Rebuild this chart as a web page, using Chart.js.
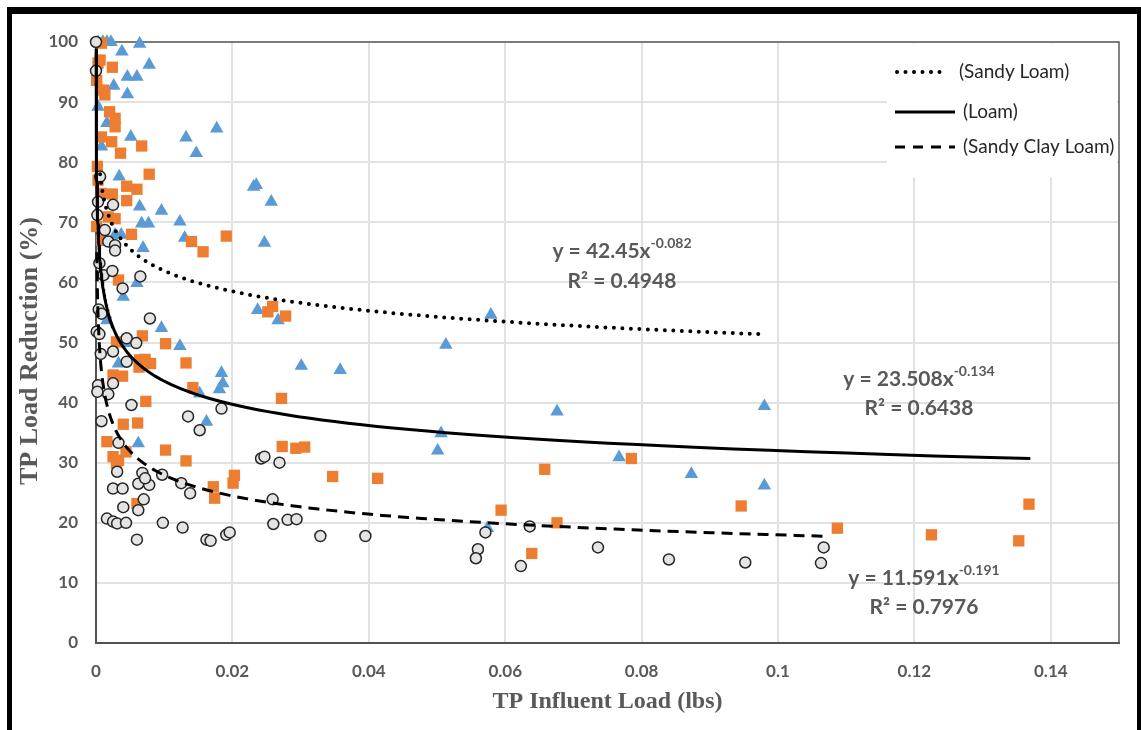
<!DOCTYPE html>
<html>
<head>
<meta charset="utf-8">
<script src="https://cdn.jsdelivr.net/npm/chart.js@4"></script>
<style>
  html, body { margin: 0; padding: 0; background: #fff; }
  #wrap { position: relative; width: 1141px; height: 730px; overflow: hidden; }
  #frame {
    position: absolute; left: 7px; top: 7px; width: 1134px; height: 800px;
    box-sizing: border-box; border-top: 7px solid #000; border-left: 5px solid #000;
    border-right: 4px solid #000; pointer-events: none;
  }
</style>
</head>
<body>
<div id="wrap">
  <canvas id="tpChart" width="1141" height="730"></canvas>
  <div id="frame"></div>
</div>
<script>
// x ticks + labels
const xTicks = [0, 0.02, 0.04, 0.06, 0.08, 0.1, 0.12, 0.14];
const xTickLabels = ['0', '0.02', '0.04', '0.06', '0.08', '0.1', '0.12', '0.14'];
const yTicks = [0, 10, 20, 30, 40, 50, 60, 70, 80, 90, 100];

// Sandy Loam (triangles)
const sandyLoamX = [0.0003, 0.0010, 0.0016, 0.0022, 0.0064, 0.0038, 0.0078, 0.0046, 0.0060, 0.0026,
  0.0046, 0.0003, 0.0016, 0.0177, 0.0132, 0.0051, 0.0147, 0.0034, 0.0231, 0.0235,
  0.0257, 0.0064, 0.0096, 0.0123, 0.0067, 0.0077, 0.0130, 0.0247, 0.0069, 0.0028,
  0.0037, 0.0060, 0.0040, 0.0237, 0.0016, 0.0267, 0.0096, 0.0123, 0.0042, 0.0033,
  0.0184, 0.0186, 0.0181, 0.0152, 0.0162, 0.0062, 0.0301, 0.0358, 0.0579, 0.0513,
  0.0676, 0.0506, 0.0501, 0.0767, 0.0873, 0.0980, 0.0980, 0.0574, 0.0008];
const sandyLoamY = [100, 100, 100, 100, 99.7, 98.4, 96.2, 94.2, 94.2, 92.7,
  91.3, 89.2, 86.5, 85.6, 84.1, 84.2, 81.5, 77.6, 75.9, 76.2,
  73.4, 72.6, 71.9, 70.1, 69.8, 69.8, 67.4, 66.6, 65.7, 67.9,
  67.9, 59.9, 57.6, 55.4, 53.7, 53.7, 52.4, 49.4, 49.9, 46.5,
  44.9, 43.2, 42.2, 41.5, 36.8, 33.2, 46.1, 45.4, 54.6, 49.6,
  38.5, 34.9, 32.0, 30.9, 28.1, 39.4, 26.2, 19.1, 82.6];

// Loam (squares)
const loamX = [0.0008, 0.0024, 0.0003, 0.0006, 0.0011, 0.0013, 0.0020, 0.0028, 0.0028, 0.0008,
  0.0023, 0.0067, 0.0036, 0.0002, 0.0078, 0.0045, 0.0060, 0.0024, 0.0045, 0.0003,
  0.0008, 0.0001, 0.0018, 0.0028, 0.0052, 0.0191, 0.0140, 0.0157, 0.0008, 0.0033,
  0.0252, 0.0259, 0.0278, 0.0068, 0.0030, 0.0102, 0.0064, 0.0072, 0.0080, 0.0063,
  0.0132, 0.0025, 0.0039, 0.0142, 0.0272, 0.0073, 0.0040, 0.0061, 0.0016, 0.0102,
  0.0132, 0.0273, 0.0293, 0.0306, 0.0025, 0.0033, 0.0044, 0.0030, 0.0203, 0.0201,
  0.0172, 0.0174, 0.0060, 0.0347, 0.0413, 0.0658, 0.0785, 0.0594, 0.0676, 0.0639,
  0.0946, 0.1087, 0.1368, 0.1225, 0.1353, 0.0001];
const loamY = [99.8, 95.8, 96.5, 97.0, 92.0, 91.2, 88.4, 87.3, 85.9, 84.2,
  83.4, 82.7, 81.5, 79.3, 78.0, 76.0, 75.5, 74.7, 73.6, 77.0,
  74.8, 69.3, 70.9, 70.6, 68.0, 67.7, 66.8, 65.1, 67.0, 60.4,
  55.1, 56.0, 54.4, 51.1, 50.1, 49.8, 47.1, 47.2, 46.5, 45.9,
  46.6, 44.6, 44.4, 42.5, 40.7, 40.2, 36.4, 36.6, 33.5, 32.1,
  30.3, 32.7, 32.4, 32.6, 31.0, 30.4, 31.8, 29.9, 27.9, 26.6,
  26.0, 24.1, 23.2, 27.7, 27.4, 28.9, 30.7, 22.1, 20.0, 14.9,
  22.8, 19.1, 23.1, 18.0, 17.0, 93.6];

// Sandy Clay Loam (circles)
const clayLoamX = [0.0000, 0.0000, 0.0006, 0.0003, 0.0025, 0.0002, 0.0013, 0.0018, 0.0028, 0.0028,
  0.0005, 0.0011, 0.0024, 0.0065, 0.0039, 0.0079, 0.0004, 0.0008, 0.0001, 0.0005,
  0.0045, 0.0059, 0.0025, 0.0007, 0.0045, 0.0025, 0.0018, 0.0003, 0.0002, 0.0052,
  0.0135, 0.0184, 0.0152, 0.0008, 0.0033, 0.0242, 0.0247, 0.0269, 0.0031, 0.0068,
  0.0025, 0.0039, 0.0062, 0.0078, 0.0072, 0.0097, 0.0125, 0.0138, 0.0040, 0.0070,
  0.0062, 0.0016, 0.0025, 0.0031, 0.0044, 0.0098, 0.0127, 0.0060, 0.0162, 0.0168,
  0.0191, 0.0196, 0.0259, 0.0260, 0.0281, 0.0294, 0.0329, 0.0395, 0.0571, 0.0560,
  0.0557, 0.0636, 0.0623, 0.0736, 0.0840, 0.0952, 0.1067, 0.1063];
const clayLoamY = [100, 95.2, 77.6, 73.4, 72.9, 71.2, 68.7, 66.8, 66.2, 65.3,
  63.2, 61.2, 61.9, 61.0, 59.0, 54.0, 55.5, 54.8, 51.8, 51.4,
  50.7, 49.9, 48.5, 48.1, 46.8, 43.2, 41.4, 42.9, 41.8, 39.6,
  37.7, 39.0, 35.4, 36.9, 33.3, 30.7, 31.0, 30.0, 28.5, 28.3,
  25.7, 25.7, 26.5, 26.3, 27.4, 28.0, 26.6, 24.9, 22.6, 23.9,
  22.1, 20.7, 20.2, 19.9, 20.0, 20.0, 19.2, 17.2, 17.2, 17.0,
  18.0, 18.4, 23.9, 19.8, 20.5, 20.6, 17.8, 17.8, 18.4, 15.6,
  14.1, 19.4, 12.8, 15.9, 13.9, 13.4, 15.9, 13.3];

// power trendlines  y = a * x^b
const trendNames = ['(Sandy Loam)', '(Loam)', '(Sandy Clay Loam)'];
const trendCoef = [42.45, 23.508, 11.591];
const trendExp = [-0.082, -0.134, -0.191];
const trendR2 = ['0.4948', '0.6438', '0.7976'];
const trendFrom = [0.0006, 0.000022, 0.00012];
const trendTo = [0.0975, 0.137, 0.107];
const trendDash = [[0, 8.5], [], [11, 7]];

function pts(xs, ys) {
  return xs.map((x, i) => ({ x: x, y: ys[i] }));
}

function trendPts(i) {
  const out = [];
  const n = 160;
  const l0 = Math.log(trendFrom[i]), l1 = Math.log(trendTo[i]);
  for (let k = 0; k <= n; k++) {
    const x = Math.exp(l0 + (l1 - l0) * k / n);
    out.push({ x: x, y: trendCoef[i] * Math.pow(x, trendExp[i]) });
  }
  return out;
}

const GRAY = '#595959';

const trendDatasets = trendNames.map((name, i) => ({
  label: name,
  data: trendPts(i),
  showLine: true,
  borderColor: '#000',
  borderWidth: i === 0 ? 4 : 3,
  borderDash: trendDash[i],
  borderCapStyle: i === 0 ? 'round' : 'butt',
  pointRadius: 0,
  pointHoverRadius: 0,
  tension: 0
}));

function drawEq(ctx, i, cx, cy1, cy2) {
  const main = 'bold 21px Lato';
  const sup = 'bold 14px Lato';
  const a = 'y = ' + trendCoef[i] + 'x';
  const b = String(trendExp[i]);
  ctx.font = main;
  const wa = ctx.measureText(a).width;
  ctx.font = sup;
  const wb = ctx.measureText(b).width;
  const x0 = cx - (wa + wb) / 2;
  ctx.fillStyle = GRAY;
  ctx.textBaseline = 'middle';
  ctx.textAlign = 'left';
  ctx.font = main;
  ctx.fillText(a, x0, cy1);
  ctx.font = sup;
  ctx.fillText(b, x0 + wa, cy1 - 8);
  ctx.font = main;
  ctx.textAlign = 'center';
  ctx.fillText('R\u00B2 = ' + trendR2[i], cx, cy2);
}

const decor = {
  id: 'decor',
  beforeDatasetsDraw(chart) {
    const { ctx, chartArea: ca } = chart;
    ctx.save();
    ctx.strokeStyle = GRAY;
    ctx.lineWidth = 1.5;
    ctx.strokeRect(ca.left, ca.top, ca.right - ca.left, ca.bottom - ca.top);
    ctx.restore();
  },
  afterDatasetsDraw(chart) {
    const { ctx, chartArea: ca } = chart;
    ctx.save();
    // legend box
    ctx.fillStyle = '#fff';
    ctx.fillRect(887, ca.top + 1.5, ca.right - 889, 134);
    const rows = [72, 112, 147];
    const textX = [959, 963, 963];
    const lineEnd = [946, 955, 955];
    rows.forEach((y, i) => {
      ctx.beginPath();
      ctx.strokeStyle = '#000';
      ctx.lineWidth = i === 0 ? 4 : 3;
      ctx.lineCap = i === 0 ? 'round' : 'butt';
      ctx.setLineDash(i === 2 ? [10, 8] : trendDash[i]);
      ctx.moveTo(i === 0 ? 897 : 895, y);
      ctx.lineTo(lineEnd[i], y);
      ctx.stroke();
      ctx.setLineDash([]);
      ctx.fillStyle = '#262626';
      ctx.font = '19px Lato';
      ctx.textAlign = 'left';
      ctx.textBaseline = 'middle';
      ctx.fillText(trendNames[i], textX[i], y);
    });
    // equations
    drawEq(ctx, 0, 622, 251, 281);
    drawEq(ctx, 1, 919, 379, 408);
    drawEq(ctx, 2, 924, 578, 607);
    // axis titles
    ctx.fillStyle = GRAY;
    ctx.font = 'bold 24px "Liberation Serif"';
    ctx.textAlign = 'center';
    ctx.textBaseline = 'middle';
    ctx.fillText('TP Influent Load (lbs)', 607.5, 702);
    ctx.font = 'bold 26px "Liberation Serif"';
    ctx.translate(30, 351);
    ctx.rotate(-Math.PI / 2);
    ctx.fillText('TP Load Reduction (%)', 0, 0);
    ctx.restore();
  }
};

new Chart(document.getElementById('tpChart'), {
  type: 'scatter',
  data: {
    datasets: [
      ...trendDatasets,
      {
        label: 'Sandy Clay Loam',
        data: pts(clayLoamX, clayLoamY),
        pointStyle: 'circle',
        pointRadius: 5.5,
        backgroundColor: '#e4e4e4',
        borderColor: '#262626',
        borderWidth: 1.5
      },
      {
        label: 'Loam',
        data: pts(loamX, loamY),
        pointStyle: 'rect',
        pointRadius: 8,
        backgroundColor: '#ED7D31',
        borderColor: '#ED7D31',
        borderWidth: 0
      },
      {
        label: 'Sandy Loam',
        data: pts(sandyLoamX, sandyLoamY),
        pointStyle: 'triangle',
        pointRadius: 7.8,
        backgroundColor: '#5B9BD5',
        borderColor: '#5B9BD5',
        borderWidth: 0
      }
    ]
  },
  options: {
    responsive: false,
    animation: false,
    clip: false,
    layout: { padding: { left: 0, top: 42, right: 22, bottom: 0 } },
    plugins: {
      legend: { display: false },
      tooltip: { enabled: false }
    },
    scales: {
      x: {
        type: 'linear',
        min: 0,
        max: 0.15,
        afterBuildTicks: s => { s.ticks = xTicks.map(v => ({ value: v })); },
        afterFit: s => { s.height = 87; },
        ticks: {
          callback: (v, i) => xTickLabels[i],
          color: GRAY,
          font: { family: 'Lato', size: 17, weight: 'bold' },
          padding: 18,
          maxRotation: 0
        },
        grid: { color: '#e2e2e2', lineWidth: 2, drawTicks: false },
        border: { color: '#404040', width: 2 }
      },
      y: {
        type: 'linear',
        min: 0,
        max: 100,
        afterBuildTicks: s => { s.ticks = yTicks.map(v => ({ value: v })); },
        afterFit: s => { s.width = 96; },
        ticks: {
          callback: (v, i) => String(yTicks[i]),
          color: GRAY,
          font: { family: 'Lato', size: 17, weight: 'bold' },
          padding: 18
        },
        grid: { color: '#e2e2e2', lineWidth: 2, drawTicks: false },
        border: { color: '#404040', width: 2 }
      }
    }
  },
  plugins: [decor]
});
</script>
</body>
</html>
